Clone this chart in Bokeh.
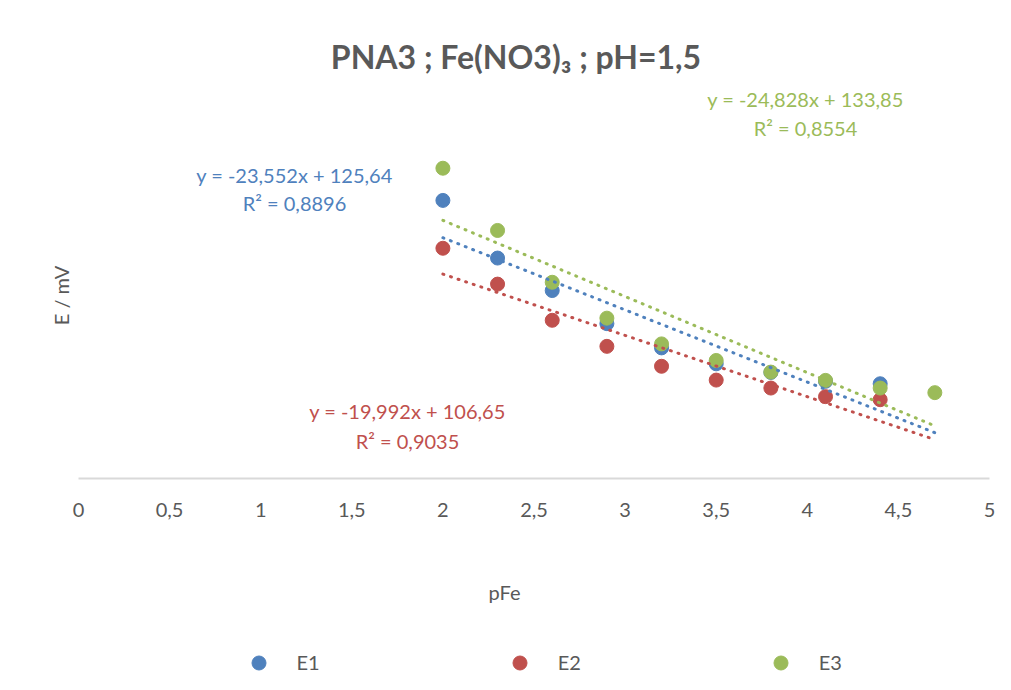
from bokeh.plotting import figure
from bokeh.layouts import column
from bokeh.models import Range1d, FixedTicker, Label, Legend, LegendItem
from bokeh.embed import file_html
from bokeh.resources import INLINE

# ---------------- data ----------------
pFe = [2.0, 2.3, 2.6, 2.9, 3.2, 3.5, 3.8, 4.1, 4.4, 4.7]
E1 = [90.7, 71.9, 61.3, 50.5, 42.6, 37.4, 34.6, 31.7, 30.9]
E2 = [75.1, 63.4, 51.6, 43.1, 36.6, 32.1, 29.5, 26.7, 25.7]
E3 = [101.2, 80.9, 64.0, 52.3, 43.9, 38.5, 34.7, 32.0, 29.5, 28.0]
series_names = ["E1", "E2", "E3"]
trend_slopes = [-23.552, -19.992, -24.828]
trend_intercepts = [125.64, 106.65, 133.85]
r2_values = ["0,8896", "0,9035", "0,8554"]
x_ticks = [0, 0.5, 1, 1.5, 2, 2.5, 3, 3.5, 4, 4.5, 5]
x_tick_labels = ["0", "0,5", "1", "1,5", "2", "2,5", "3", "3,5", "4", "4,5", "5"]
title_text = "PNA3 ; Fe(NO3)\u2083 ; pH=1,5"
x_title = "pFe"
y_title = "E / mV"

# ---------------- style / layout ----------------
COLORS = ["#4F81BD", "#C0504D", "#9BBB59"]
TEXT = "#595959"
FONT = "Lato"

W = 1008
H_MAIN, H_LEG = 620, 68
X0, PXX = 78.0, 182.2      # pixel of x = 0, pixels per pFe unit
Y0, PXY = 478.0, 3.066     # pixel of E = 0, pixels per mV

p = figure(width=W, height=H_MAIN, output_backend="svg", toolbar_location=None,
           x_range=Range1d(-X0 / PXX, (W - X0) / PXX),
           y_range=Range1d(0, Y0 / PXY),
           min_border_left=0, min_border_right=0,
           min_border_top=0, min_border_bottom=int(H_MAIN - Y0),
           y_axis_location=None)
p.outline_line_color = None
p.xgrid.grid_line_color = None
p.ygrid.grid_line_color = None
p.background_fill_color = "white"
p.border_fill_color = "white"

ax = p.xaxis[0]
ax.ticker = FixedTicker(ticks=x_ticks)
ax.bounds = (x_ticks[0], x_ticks[-1])
ax.major_label_overrides = {t: s for t, s in zip(x_ticks, x_tick_labels)}
ax.axis_line_color = "#D9D9D9"
ax.axis_line_width = 2
ax.major_tick_line_color = None
ax.minor_tick_line_color = None
ax.major_tick_out = 0
ax.major_label_standoff = 24
ax.major_label_text_font = FONT
ax.major_label_text_font_size = "20px"
ax.major_label_text_color = TEXT
ax.axis_label = x_title
ax.axis_label_standoff = 60
ax.axis_label_text_font = FONT
ax.axis_label_text_font_size = "20px"
ax.axis_label_text_font_style = "normal"
ax.axis_label_text_color = TEXT

# scatter markers
series = [E1, E2, E3]
for name, vals, col in zip(series_names, series, COLORS):
    p.scatter(pFe[:len(vals)], vals, size=14, fill_color=col, line_color=col)

# linear trendlines over the full pFe span
x_lo, x_hi = min(pFe), max(pFe)
for m, b, col in zip(trend_slopes, trend_intercepts, COLORS):
    p.line([x_lo, x_hi], [m * x_lo + b, m * x_hi + b], line_color=col,
           line_width=3, line_dash="1 7", line_cap="round")

# helpers: reference pixel position -> data coordinates
def dx(ix):
    return (ix - X0) / PXX

def dy(iy):
    return (Y0 - iy) / PXY

def add_text(ix, iy, text, size="20px", color=TEXT, bold=False, angle=0.0):
    p.add_layout(Label(x=dx(ix), y=dy(iy), text=text, text_font=FONT,
                       text_font_size=size, text_color=color,
                       text_font_style="bold" if bold else "normal",
                       text_align="center", text_baseline="middle", angle=angle))

add_text(515.5, 56, title_text, size="32px", bold=True)
add_text(60, 295, y_title, size="20px", angle=1.5707963)

# trendline equation labels
eq_pos = [(294, 174, 202), (407, 410, 440), (805, 98, 127)]
for (ix, iy1, iy2), m, b, r2, col in zip(eq_pos, trend_slopes, trend_intercepts, r2_values, COLORS):
    eq = ("y = %.3fx + %.2f" % (m, b)).replace(".", ",")
    add_text(ix, iy1, eq, color=col)
    add_text(ix, iy2, "R\u00b2 = " + r2, color=col)

# ---------------- legend strip ----------------
# the strip's ranges keep its (duplicate) series markers out of view; only the legend shows
pl = figure(width=W, height=H_LEG, output_backend="svg", toolbar_location=None,
            x_range=Range1d(-10, -9), y_range=Range1d(-10, -9),
            min_border_left=0, min_border_right=0, min_border_top=0, min_border_bottom=0,
            x_axis_location=None, y_axis_location=None)
pl.outline_line_color = None
pl.xgrid.grid_line_color = None
pl.ygrid.grid_line_color = None
leg_renderers = [pl.scatter(pFe[:len(vals)], vals, size=14, fill_color=col, line_color=col)
                 for vals, col in zip(series, COLORS)]
legend = Legend(items=[LegendItem(label=n, renderers=[r]) for n, r in zip(series_names, leg_renderers)],
                orientation="horizontal", location=(240.5, 8.5),
                glyph_width=35, glyph_height=35, label_standoff=21, spacing=182,
                padding=0, margin=0, border_line_color=None, background_fill_alpha=0,
                label_text_font=FONT, label_text_font_size="20px", label_text_color=TEXT)
pl.add_layout(legend)

layout = column(p, pl, spacing=0)
open("out.html", "w").write(file_html(layout, INLINE))
